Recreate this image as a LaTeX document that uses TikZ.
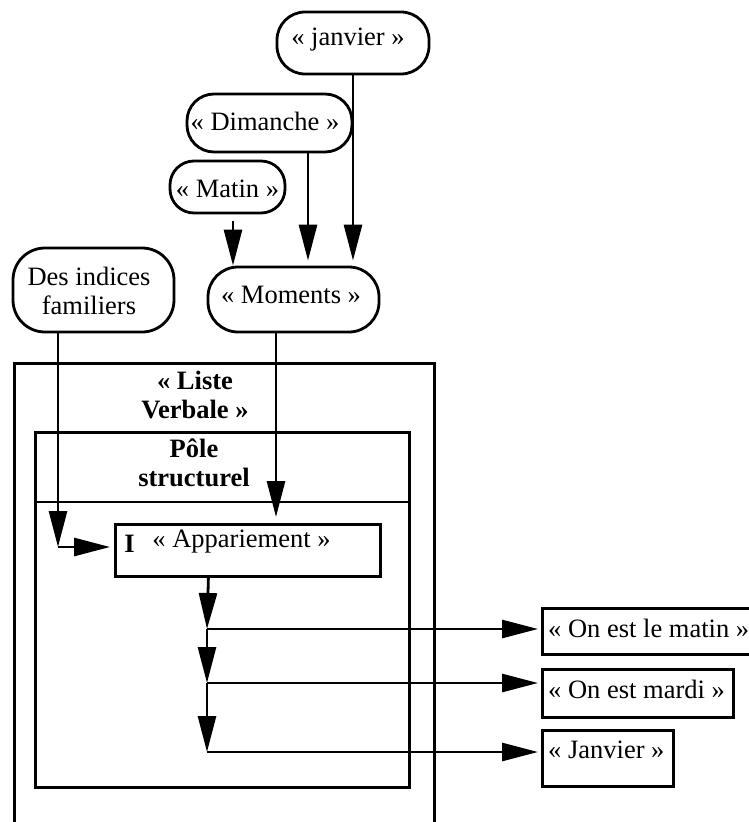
\documentclass[tikz,border=0pt]{standalone}
\usepackage{fontspec}
\setmainfont{Liberation Serif}
\usetikzlibrary{arrows.meta}
\begin{document}
\begin{tikzpicture}[x=1pt,y=-1pt,
  lw/.style={line width=2.8pt},
  rbox/.style={draw, lw, inner sep=0pt, rectangle},
  sbox/.style={draw, lw, inner sep=0pt, rectangle, anchor=north west},
  txt/.style={inner sep=0pt, anchor=base, align=center, font=\fontsize{26.5}{29}\selectfont},
  btxt/.style={txt, font=\fontsize{26.5}{29}\selectfont\bfseries},
  arr/.style={lw, -{Triangle[length=36pt,width=18pt]}}]
\useasboundingbox (0,0) rectangle (749,822);
\clip (0,0) rectangle (749,822);
% top rounded boxes
\node[rbox, rounded corners=28pt, minimum width=152pt, minimum height=62pt] (janvier) at (353,43) {};
\node[txt] (tjanvier) at (348,45) {« janvier »};
\node[rbox, rounded corners=27pt, minimum width=165pt, minimum height=58pt] (dimanche) at (269.5,123) {};
\node[txt] (tdimanche) at (265,130) {« Dimanche »};
\node[rbox, rounded corners=24pt, minimum width=115pt, minimum height=52pt] (matin) at (227.5,187) {};
\node[txt] (tmatin) at (227.5,197) {« Matin »};
\node[rbox, rounded corners=30pt, minimum width=171pt, minimum height=65pt] (moments) at (293.5,299.5) {};
\node[txt] (tmoments) at (291,303) {« Moments »};
\node[rbox, rounded corners=32pt, minimum width=161pt, minimum height=84pt] (desind) at (93.5,290) {};
\node[txt] (tdesind) at (89,314) {Des indices\\familiers};
% containers
\node[sbox, minimum width=420pt, minimum height=520pt] (liste) at (13,362) {};
\node[btxt] (tliste) at (195,418) {« Liste\\Verbale »};
\node[sbox, minimum width=374pt, minimum height=355pt] (pole) at (34,431) {};
\node[btxt] (tpole) at (194,486) {Pôle\\structurel};
\coordinate (sepy) at (0,502);
\draw[lw] (pole.west |- sepy) -- (pole.east |- sepy);
% appariement
\node[sbox, minimum width=265pt, minimum height=52pt] (appar) at (114,523) {};
\node[btxt] (tI) at (129.5,552) {I};
\node[txt] (tappar) at (241.5,547) {« Appariement »};
% result boxes
\node[sbox, minimum width=222pt, minimum height=46pt] (rmatin) at (541,607) {};
\node[txt, anchor=base west] (trmatin) at (548,637) {« On est le matin »};
\node[sbox, minimum width=191pt, minimum height=48pt] (rmardi) at (541,668) {};
\node[txt, anchor=base west] (trmardi) at (548,698) {« On est mardi »};
\node[sbox, minimum width=131pt, minimum height=56pt] (rjan) at (541,729) {};
\node[txt, anchor=base west] (trjan) at (548,758) {« Janvier »};
% connectors into Moments
\draw[arr, shorten >=5pt] (janvier.south) -- (janvier.south |- moments.north);
\coordinate (d1) at ([xshift=38.5pt]dimanche.south);
\draw[arr, shorten >=5pt] (d1) -- (d1 |- moments.north);
\coordinate (m1) at ([xshift=5.5pt,yshift=-7pt]matin.south);
\draw[arr] (m1) -- (m1 |- moments.north);
% Moments -> Appariement
\coordinate (mo1) at ([xshift=-17.5pt]moments.south);
\draw[arr, shorten >=6pt] (mo1) -- (mo1 |- appar.north);
% Des indices -> Appariement
\coordinate (di1) at ([xshift=-35.5pt]desind.south);
\coordinate (corner) at (58,547);
\draw[arr] (di1) -- (corner);
\draw[arr, shorten >=4pt] (corner) -- (corner -| appar.west);
% Appariement -> results
\coordinate (a0) at ([xshift=-39.5pt]appar.south);
\coordinate (b1) at (207,629);
\coordinate (b2) at (207,683);
\coordinate (b3) at (207,752);
\draw[arr] (a0) -- (b1);
\draw[arr] (b1) -- (b2);
\draw[arr] (b2) -- (b3);
\draw[arr, shorten >=3pt] (b1) -- (b1 -| rmatin.west);
\draw[arr, shorten >=3pt] (b2) -- (b2 -| rmardi.west);
\draw[arr, shorten >=3pt] (b3) -- (b3 -| rjan.west);
\end{tikzpicture}
\end{document}
